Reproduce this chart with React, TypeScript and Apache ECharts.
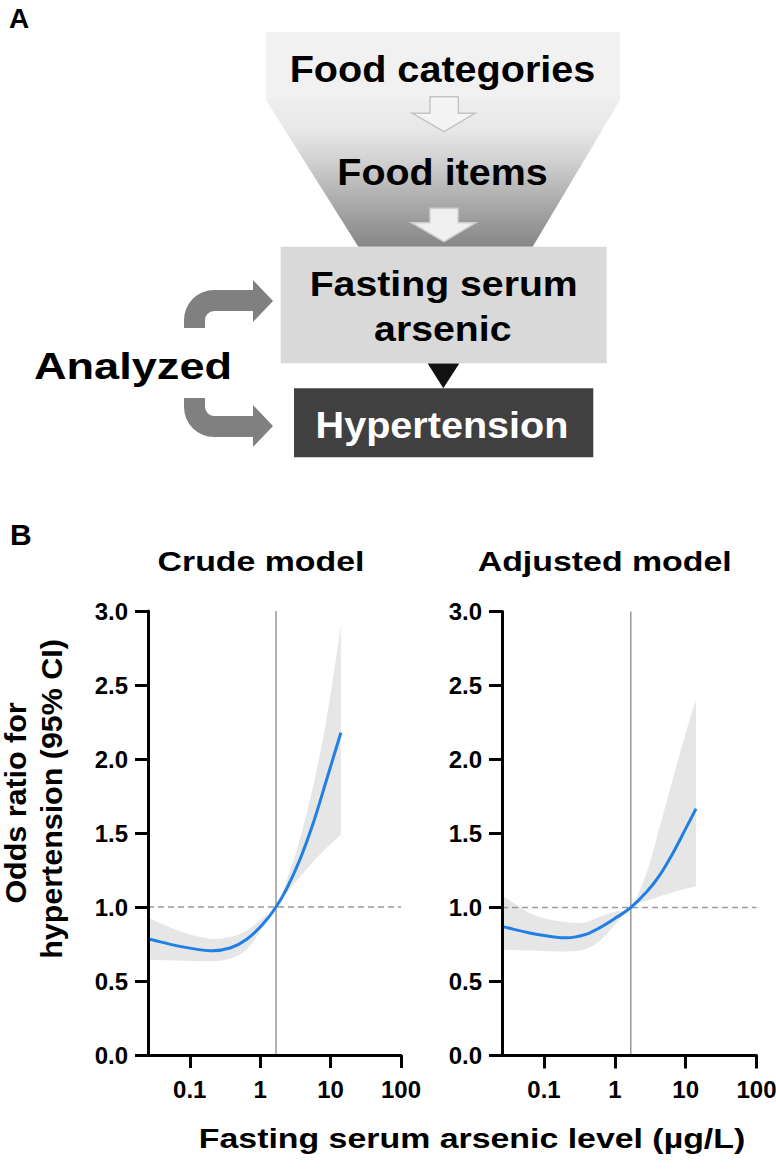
import React, { useEffect, useRef } from "react";
import * as echarts from "echarts";

// ---------- data ----------
const X_MIN = 0.0255;
const X_MAX = 100;
const X_TICK_VALUES = [0.1, 1, 10, 100];
const X_TICK_LABELS = ["0.1", "1", "10", "100"];
const Y_MIN = 0;
const Y_MAX = 3;
const Y_INTERVAL = 0.5;
const REF_X = 1.68;
const REF_OR = 1;

const PANEL_TITLES = ["Crude model", "Adjusted model"];

const crudeX = [0.026, 0.073, 0.195, 0.374, 0.645, 1.11, 1.68, 2.38, 3.67, 5.67, 8.77, 14.0];
const crudeOR = [0.784, 0.734, 0.705, 0.723, 0.782, 0.888, 1.0, 1.124, 1.321, 1.567, 1.86, 2.178];
const crudeLower = [0.644, 0.638, 0.634, 0.65, 0.715, 0.869, 1.0, 1.094, 1.203, 1.305, 1.4, 1.488];
const crudeUpper = [0.926, 0.836, 0.786, 0.797, 0.842, 0.93, 1.0, 1.18, 1.46, 1.82, 2.27, 2.9];

const adjX = [0.026, 0.071, 0.209, 0.4, 0.615, 1.0, 1.68, 2.82, 4.33, 6.68, 10.3, 14.0];
const adjOR = [0.871, 0.823, 0.795, 0.82, 0.864, 0.926, 1.0, 1.106, 1.221, 1.372, 1.545, 1.667];
const adjLower = [0.714, 0.71, 0.703, 0.722, 0.775, 0.88, 1.0, 1.045, 1.076, 1.103, 1.128, 1.144];
const adjUpper = [1.08, 0.951, 0.9, 0.9, 0.937, 0.971, 1.0, 1.236, 1.55, 1.88, 2.2, 2.4];

const FLOW_TEXTS = ["Food categories", "Food items", "Fasting serum", "arsenic", "Hypertension", "Analyzed"];
const Y_TITLE_LINES = ["Odds ratio for", "hypertension (95% CI)"];
const X_TITLE = "Fasting serum arsenic level (\u00b5g/L)";

// ---------- shapes ----------
const ARROW_UP_D =
  "M184 328 L184 320 A30 30 0 0 1 214 290 L253 290 L253 280 L273 301 L253 322 L253 311 L214 311 A9 9 0 0 0 205 320 L205 328 Z";
const ARROW_DOWN_D =
  "M184 398 L184 407 A30 30 0 0 0 214 437 L253 437 L253 447 L273 426 L253 405 L253 416 L214 416 A9 9 0 0 1 205 407 L205 398 Z";
echarts.graphic.registerShape("curvedArrowUp", echarts.graphic.extendPath(ARROW_UP_D, {}));
echarts.graphic.registerShape("curvedArrowDown", echarts.graphic.extendPath(ARROW_DOWN_D, {}));

const FONT = "'Liberation Sans', Arial, Helvetica, sans-serif";
const BLUE = "#1f7fe4";
const BAND = "#e6e6e6";
const REF_GREY = "#9a9a9a";

const lg = (v: number) => Math.log10(v);

// smooth drawing (cubic Hermite through the pixel points given by the axes)
function hermitePath(pts: number[][], moveTo = true): string {
  const n = pts.length;
  const m = pts.map((_, i) => {
    const a = pts[Math.max(0, i - 1)];
    const b = pts[Math.min(n - 1, i + 1)];
    return (b[1] - a[1]) / (b[0] - a[0]);
  });
  let d = (moveTo ? "M" : "L") + pts[0][0].toFixed(2) + " " + pts[0][1].toFixed(2);
  for (let i = 0; i < n - 1; i++) {
    const h = pts[i + 1][0] - pts[i][0];
    const c1x = pts[i][0] + h / 3;
    const c1y = pts[i][1] + (m[i] * h) / 3;
    const c2x = pts[i + 1][0] - h / 3;
    const c2y = pts[i + 1][1] - (m[i + 1] * h) / 3;
    d += ` C${c1x.toFixed(2)} ${c1y.toFixed(2)} ${c2x.toFixed(2)} ${c2y.toFixed(2)} ${pts[i + 1][0].toFixed(2)} ${pts[i + 1][1].toFixed(2)}`;
  }
  return d;
}

function txt(text: string, x: number, y: number, size: number, o: any = {}) {
  return {
    type: "text",
    x,
    y,
    scaleX: o.sx ?? 1,
    rotation: o.rot ?? 0,
    z: 10,
    style: {
      text,
      x: 0,
      y: 0,
      fill: o.fill ?? "#000",
      fontSize: size,
      fontWeight: "bold",
      fontFamily: FONT,
      align: o.align ?? "center",
      verticalAlign: "middle",
    },
  };
}

function modelSeries(idx: number, xs: number[], or: number[], lo: number[], up: number[]) {
  const lx = xs.map(lg);
  const common = { xAxisIndex: idx, yAxisIndex: idx, silent: true };
  return [
    {
      ...common,
      type: "custom",
      data: lx.map((x, i) => [x, up[i], lo[i]]),
      renderItem: (params: any, api: any) => {
        if (params.dataIndex !== 0) return null;
        const upPx = lx.map((x, i) => api.coord([x, up[i]]));
        const loPx = lx.map((x, i) => api.coord([x, lo[i]])).reverse();
        return {
          type: "path",
          shape: { pathData: hermitePath(upPx) + " " + hermitePath(loPx, false) + " Z" },
          style: { fill: BAND },
        };
      },
      z: 1,
    },
    {
      ...common,
      type: "line",
      symbol: "none",
      data: [
        [lg(X_MIN), REF_OR],
        [lg(X_MAX), REF_OR],
      ],
      lineStyle: { color: REF_GREY, width: 1.3, type: [6, 4] },
      z: 2,
    },
    {
      ...common,
      type: "line",
      symbol: "none",
      data: [
        [lg(REF_X), Y_MIN],
        [lg(REF_X), Y_MAX],
      ],
      lineStyle: { color: REF_GREY, width: 1.5 },
      z: 2,
    },
    {
      ...common,
      type: "custom",
      data: lx.map((x, i) => [x, or[i]]),
      renderItem: (params: any, api: any) => {
        if (params.dataIndex !== 0) return null;
        const px = lx.map((x, i) => api.coord([x, or[i]]));
        return {
          type: "path",
          shape: { pathData: hermitePath(px) },
          style: { fill: "none", stroke: BLUE, lineWidth: 3 },
        };
      },
      z: 3,
    },
  ];
}

function xAxis(idx: number) {
  const vals = X_TICK_VALUES.map(lg);
  return {
    type: "value",
    gridIndex: idx,
    min: lg(X_MIN),
    max: lg(X_MAX),
    z: 10,
    splitLine: { show: false },
    axisLine: { show: true, onZero: false, lineStyle: { color: "#000", width: 3 } },
    axisTick: { show: true, length: 13, lineStyle: { color: "#000", width: 3 }, customValues: vals },
    axisLabel: {
      customValues: vals,
      margin: 22,
      color: "#000",
      fontSize: 24,
      fontWeight: "bold",
      fontFamily: FONT,
      formatter: (v: number) => {
        const i = vals.findIndex((t) => Math.abs(t - v) < 1e-6);
        return i >= 0 ? X_TICK_LABELS[i] : "";
      },
    },
  };
}

function yAxis(idx: number) {
  return {
    type: "value",
    gridIndex: idx,
    min: Y_MIN,
    max: Y_MAX,
    interval: Y_INTERVAL,
    z: 10,
    splitLine: { show: false },
    axisLine: { show: true, onZero: false, lineStyle: { color: "#000", width: 3 } },
    axisTick: { show: true, length: 13, lineStyle: { color: "#000", width: 3 } },
    axisLabel: {
      margin: 20,
      color: "#000",
      fontSize: 24,
      fontWeight: "bold",
      fontFamily: FONT,
      formatter: (v: number) => v.toFixed(1),
    },
  };
}

export default function App() {
  const ref = useRef<HTMLDivElement>(null);
  useEffect(() => {
    if (!ref.current) return;
    const chart = echarts.init(ref.current, null, { renderer: "svg" });

    const funnelGradient = {
      type: "linear",
      x: 0,
      y: 0,
      x2: 0,
      y2: 1,
      colorStops: [
        { offset: 0, color: "#eeeeee" },
        { offset: 0.2, color: "#e8e8e8" },
        { offset: 0.42, color: "#d0d0d0" },
        { offset: 0.62, color: "#b5b5b5" },
        { offset: 0.82, color: "#9c9c9c" },
        { offset: 1, color: "#868686" },
      ],
    };

    const graphics: any[] = [
      // panel A
      txt("A", 9, 18, 28, { align: "left" }),
      { type: "rect", shape: { x: 266, y: 32, width: 354, height: 68 }, style: { fill: "#f1f1f1" } },
      {
        type: "polygon",
        shape: { points: [[266, 100], [620, 100], [532.7, 246.7], [358.3, 246.7]] },
        style: { fill: funnelGradient },
      },
      {
        type: "polygon",
        shape: {
          points: [[430, 96.7], [458.3, 96.7], [458.3, 113.3], [475, 113.3], [444, 131.7], [412.3, 113.3], [430, 113.3]],
        },
        style: { fill: "#f4f4f4", stroke: "#c4c4c4", lineWidth: 1.5 },
      },
      {
        type: "polygon",
        shape: {
          points: [[430, 208.3], [458, 208.3], [458, 222.7], [475.7, 222.7], [444, 241.7], [411.7, 222.7], [430, 222.7]],
        },
        style: { fill: "#f0f0f0", stroke: "#cfcfcf", lineWidth: 1.5 },
      },
      { type: "rect", shape: { x: 280.7, y: 246.7, width: 326, height: 116.6 }, style: { fill: "#d9d9d9" } },
      {
        type: "polygon",
        shape: { points: [[427.7, 363.5], [459.3, 363.5], [443.3, 388.3]] },
        style: { fill: "#111111" },
      },
      { type: "rect", shape: { x: 294, y: 388.3, width: 299.3, height: 69 }, style: { fill: "#404040" } },
      { type: "curvedArrowUp", x: 0, y: 0, style: { fill: "#808080" } },
      { type: "curvedArrowDown", x: 0, y: 0, style: { fill: "#808080" } },
      txt(FLOW_TEXTS[0], 442.5, 68.7, 37, { sx: 1.07 }),
      txt(FLOW_TEXTS[1], 442.5, 171.7, 37, { sx: 1.066 }),
      txt(FLOW_TEXTS[2], 443.7, 284, 36, { sx: 1.09 }),
      txt(FLOW_TEXTS[3], 442.8, 328.7, 36, { sx: 1.09 }),
      txt(FLOW_TEXTS[4], 442, 424.7, 37, { sx: 1.07, fill: "#ffffff" }),
      txt(FLOW_TEXTS[5], 133, 366.7, 37, { sx: 1.22 }),
      // panel B
      txt("B", 10, 534, 30, { align: "left" }),
      txt(PANEL_TITLES[0], 261, 562, 28, { sx: 1.21 }),
      txt(PANEL_TITLES[1], 604.7, 562, 28, { sx: 1.21 }),
      txt(X_TITLE, 472, 1139, 28, { sx: 1.21 }),
      txt(Y_TITLE_LINES[0], 15.5, 803, 29, { sx: 1.05, rot: Math.PI / 2 }),
      txt(Y_TITLE_LINES[1], 52, 799, 29, { sx: 1.05, rot: Math.PI / 2 }),
    ];

    const option: any = {
      animation: false,
      backgroundColor: "#ffffff",
      grid: [
        { left: 148, top: 611, width: 253, height: 444, outerBoundsMode: "none" },
        { left: 502, top: 611.5, width: 254.5, height: 444, outerBoundsMode: "none" },
      ],
      xAxis: [xAxis(0), xAxis(1)],
      yAxis: [yAxis(0), yAxis(1)],
      series: [
        ...modelSeries(0, crudeX, crudeOR, crudeLower, crudeUpper),
        ...modelSeries(1, adjX, adjOR, adjLower, adjUpper),
      ],
      graphic: graphics,
    };
    chart.setOption(option);
    return () => chart.dispose();
  }, []);

  return (
    <div
      ref={ref}
      style={{ position: "absolute", left: 0, top: 0, width: 776, height: 1169, background: "#fff" }}
    />
  );
}
